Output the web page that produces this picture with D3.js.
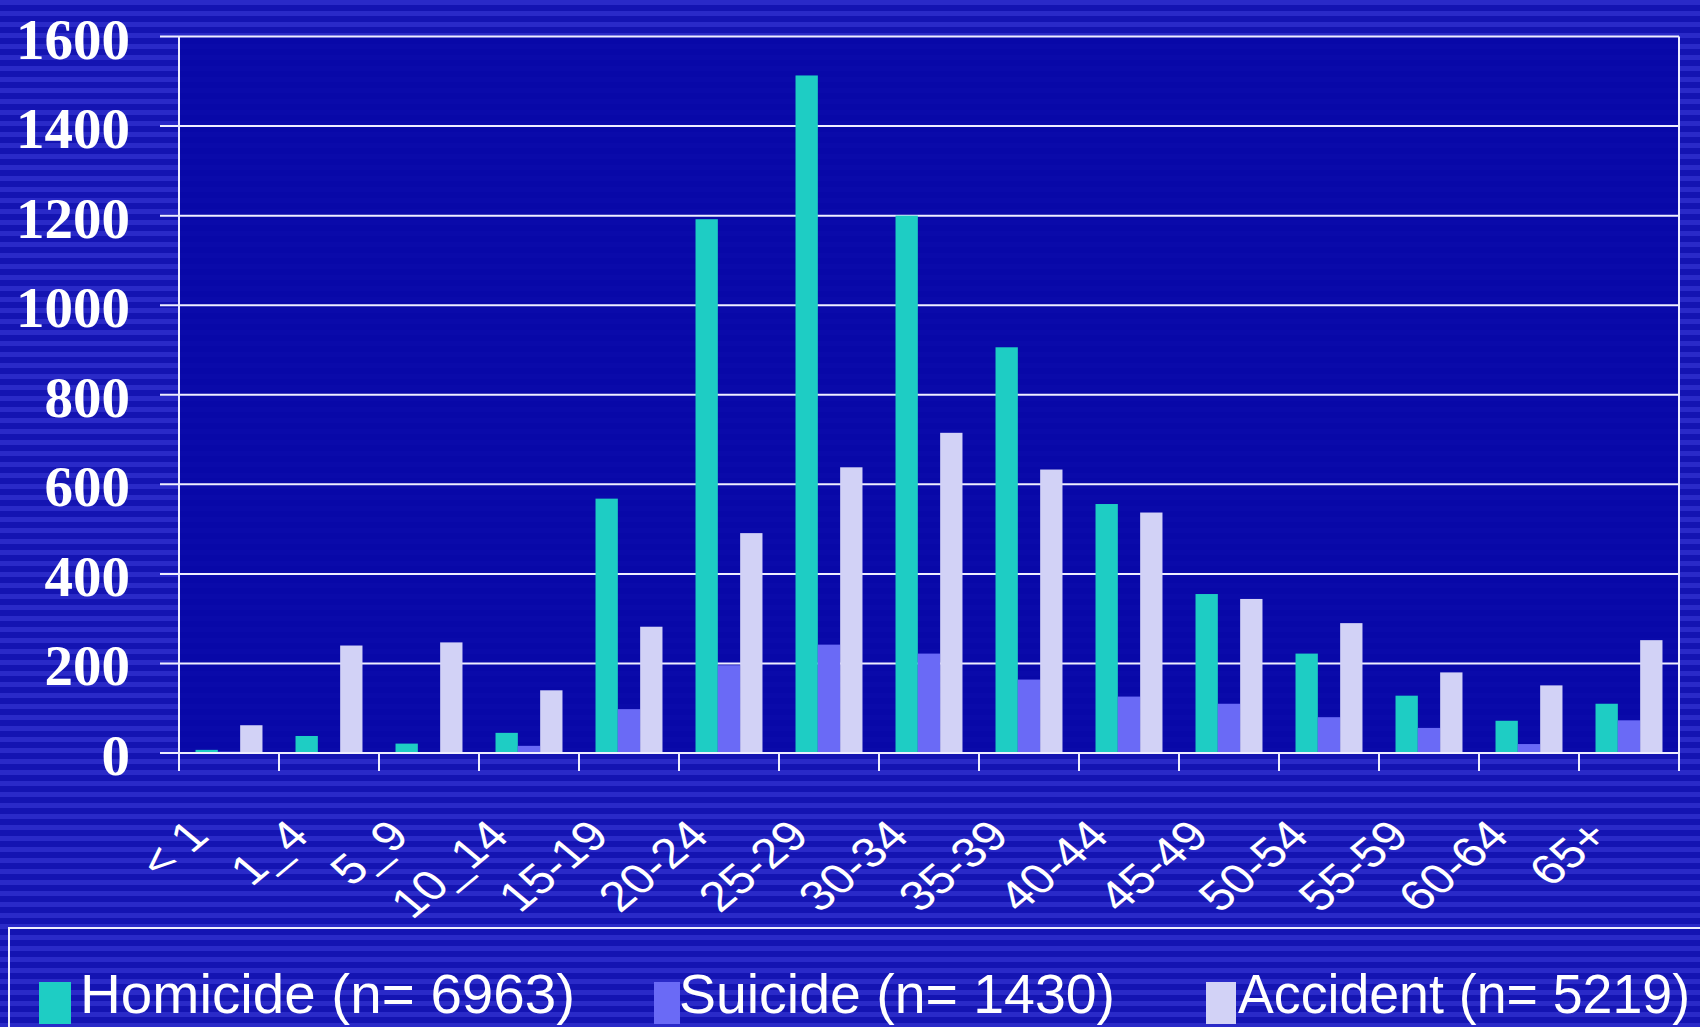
<!DOCTYPE html>
<html>
<head>
<meta charset="utf-8">
<script src="https://cdn.jsdelivr.net/npm/d3@7/dist/d3.min.js"></script>
<style>
  html, body { margin: 0; padding: 0; background: #1414b0; }
  svg { display: block; }
</style>
</head>
<body>
<svg id="chart" width="1700" height="1027"></svg>
<script>
// ---- data ----
const categories = ["< 1","1_4","5_9","10_14","15-19","20-24","25-29","30-34","35-39","40-44","45-49","50-54","55-59","60-64","65+"];
const homicide = [7, 38, 21, 45, 568, 1192, 1513, 1200, 906, 556, 355, 222, 128, 72, 110];
const suicide  = [3, 0, 2, 16, 98, 196, 242, 222, 164, 126, 110, 80, 56, 20, 73];
const accident = [62, 240, 247, 140, 282, 491, 638, 715, 633, 537, 344, 290, 180, 151, 252];
const seriesNames = ["Homicide (n= 6963)", "Suicide (n= 1430)", "Accident (n= 5219)"];
const seriesKeys = ["homicide", "suicide", "accident"];
const yTicks = [0, 200, 400, 600, 800, 1000, 1200, 1400, 1600];

const colors = { homicide: "#1ecdc4", suicide: "#6a6af6", accident: "#d2d2f6" };
const seriesData = { homicide, suicide, accident };

(function () {
const svg = d3.select("#chart");
const W = 1700, H = 1027;
const pLeft = 179, pRight = 1679, pTop = 36.5, pBottom = 753;

// background stripes
const defs = svg.append("defs");
const pat = defs.append("pattern").attr("id", "stripes")
  .attr("patternUnits", "userSpaceOnUse").attr("width", W).attr("height", 11);
pat.append("rect").attr("width", W).attr("height", 11).attr("fill", "#1414b2");
pat.append("rect").attr("y", 0).attr("width", W).attr("height", 5).attr("fill", "#2a2ac8");
svg.append("rect").attr("width", W).attr("height", H).attr("fill", "url(#stripes)");

// plot area
svg.append("rect").attr("x", pLeft).attr("y", pTop).attr("width", pRight - pLeft).attr("height", pBottom - pTop)
  .attr("fill", "#0707a6").attr("opacity", 0.9);

const x = d3.scaleBand().domain(categories).range([pLeft, pRight]).padding(0);
const xs = d3.scaleBand().domain(seriesKeys).range([0, x.bandwidth()]).paddingInner(0).paddingOuter(0.74);
const y = d3.scaleLinear().domain([0, 1600]).range([pBottom, pTop]);

// gridlines
const lineCol = "#eeeeff";
svg.append("g").selectAll("line").data(yTicks).join("line")
  .attr("x1", 160).attr("x2", pRight)
  .attr("y1", d => y(d)).attr("y2", d => y(d))
  .attr("stroke", lineCol).attr("stroke-width", 2);

// bars
const g = svg.append("g");
seriesKeys.forEach(k => {
  g.append("g").selectAll("rect").data(categories).join("rect")
    .attr("x", (c) => x(c) + xs(k))
    .attr("width", xs.bandwidth())
    .attr("y", (c, i) => y(seriesData[k][i]))
    .attr("height", (c, i) => y(0) - y(seriesData[k][i]))
    .attr("fill", colors[k]);
});

// baseline on top
svg.append("line").attr("x1", 160).attr("x2", pRight).attr("y1", y(0)).attr("y2", y(0))
  .attr("stroke", lineCol).attr("stroke-width", 2);

// y axis & right frame
svg.append("line").attr("x1", pLeft).attr("x2", pLeft).attr("y1", pTop).attr("y2", pBottom + 18)
  .attr("stroke", lineCol).attr("stroke-width", 2);
svg.append("line").attr("x1", pRight).attr("x2", pRight).attr("y1", pTop).attr("y2", pBottom + 18)
  .attr("stroke", lineCol).attr("stroke-width", 2);

// x category boundary ticks
const bounds = categories.map(c => x(c)).concat([x.range()[1]]);
svg.append("g").selectAll("line").data(bounds).join("line")
  .attr("x1", d => d).attr("x2", d => d).attr("y1", y(0)).attr("y2", y(0) + 18)
  .attr("stroke", lineCol).attr("stroke-width", 2);

// y labels
svg.append("g").selectAll("text").data(yTicks).join("text")
  .attr("x", 130).attr("y", d => y(d) + 22)
  .attr("text-anchor", "end")
  .attr("font-family", "'Liberation Serif', 'Times New Roman', serif")
  .attr("font-weight", "bold").attr("font-size", 57).attr("fill", "#ffffff")
  .text(d => d);

// x labels
svg.append("g").selectAll("text").data(categories).join("text")
  .attr("transform", c => `translate(${x(c) + x.bandwidth() / 2 - 18},838) scale(1.2,1) rotate(-45)`)
  .attr("text-anchor", "end")
  .attr("font-family", "'Liberation Sans', Arial, sans-serif")
  .attr("font-size", 42).attr("fill", "#ffffff")
  .text(c => c);

// legend
svg.append("rect").attr("x", 9).attr("y", 928).attr("width", 1720).attr("height", 200)
  .attr("fill", "none").attr("stroke", lineCol).attr("stroke-width", 2);
const legX = [39, 654, 1206];
const legW = [32, 26, 30];
const legTX = [80, 679, 1238];
const legLen = [495, 436, 452];
seriesKeys.forEach((k, i) => {
  svg.append("rect").attr("x", legX[i]).attr("y", 982).attr("width", legW[i]).attr("height", 42)
    .attr("fill", colors[k]);
  svg.append("text").attr("x", legTX[i]).attr("y", 1013)
    .attr("font-family", "'Liberation Sans', Arial, sans-serif")
    .attr("font-size", 55).attr("fill", "#ffffff")
    .attr("textLength", legLen[i]).attr("lengthAdjust", "spacingAndGlyphs")
    .text(seriesNames[i]);
});
})();
</script>
</body>
</html>
